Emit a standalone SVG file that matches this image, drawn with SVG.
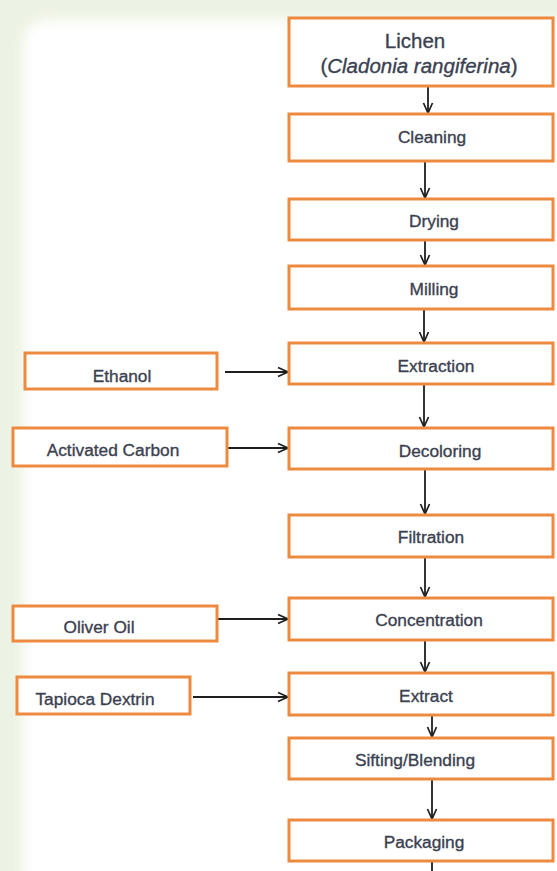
<svg xmlns="http://www.w3.org/2000/svg" width="557" height="871" viewBox="0 0 557 871">
<style>
.box{fill:#ffffff;stroke:#ee8a3e;stroke-width:3}
.t{font-family:"Liberation Sans",Arial,sans-serif;font-size:17.3px;fill:#3b4150;stroke:#3b4150;stroke-width:0.35;text-anchor:middle}
.big{font-size:20.5px}
.c{stroke:#1e1e1e;stroke-width:1.8;fill:none}
</style>
<defs>
<filter id="blur" x="-10%" y="-10%" width="120%" height="120%"><feGaussianBlur stdDeviation="6"/></filter>
<marker id="ah" viewBox="0 0 12 12" refX="11" refY="6" markerWidth="12" markerHeight="12" markerUnits="userSpaceOnUse" orient="auto">
<polyline points="1,1.5 11,6 1,10.5" fill="none" stroke="#1e1e1e" stroke-width="1.7"/>
</marker>
</defs>
<rect x="0" y="0" width="557" height="871" fill="#edf3e4"/>
<rect x="24" y="20" width="600" height="900" rx="22" fill="#ffffff" filter="url(#blur)"/>
<g id="connectors">
<line class="c" x1="428" y1="87" x2="428" y2="113" marker-end="url(#ah)"/>
<line class="c" x1="425" y1="162" x2="425" y2="198" marker-end="url(#ah)"/>
<line class="c" x1="425" y1="241" x2="425" y2="265" marker-end="url(#ah)"/>
<line class="c" x1="424" y1="310" x2="424" y2="342" marker-end="url(#ah)"/>
<line class="c" x1="424" y1="385" x2="424" y2="427" marker-end="url(#ah)"/>
<line class="c" x1="425" y1="470" x2="425" y2="514" marker-end="url(#ah)"/>
<line class="c" x1="425" y1="557" x2="425" y2="597" marker-end="url(#ah)"/>
<line class="c" x1="425" y1="640" x2="425" y2="672" marker-end="url(#ah)"/>
<line class="c" x1="432" y1="715" x2="432" y2="737" marker-end="url(#ah)"/>
<line class="c" x1="432" y1="780" x2="432" y2="819" marker-end="url(#ah)"/>
<line class="c" x1="432" y1="862" x2="432" y2="871"/>
<line class="c" x1="225" y1="372" x2="288" y2="372" marker-end="url(#ah)"/>
<line class="c" x1="228" y1="448" x2="288" y2="448" marker-end="url(#ah)"/>
<line class="c" x1="218" y1="619" x2="288" y2="619" marker-end="url(#ah)"/>
<line class="c" x1="193" y1="697" x2="288" y2="697" marker-end="url(#ah)"/>
</g>
<g id="lichen"><rect class="box" x="289" y="18" width="264" height="68"/>
<text class="t big" x="415" y="48">Lichen</text>
<text class="t big" x="419" y="73">(<tspan font-style="italic">Cladonia rangiferina</tspan>)</text></g>
<g id="cleaning"><rect class="box" x="289" y="114" width="264" height="47"/><text class="t" x="432" y="143">Cleaning</text></g>
<g id="drying"><rect class="box" x="289" y="199" width="264" height="41"/><text class="t" x="434" y="227">Drying</text></g>
<g id="milling"><rect class="box" x="289" y="266" width="264" height="43"/><text class="t" x="434" y="295">Milling</text></g>
<g id="extraction"><rect class="box" x="289" y="343" width="264" height="41"/><text class="t" x="436" y="372">Extraction</text></g>
<g id="decoloring"><rect class="box" x="289" y="428" width="264" height="41"/><text class="t" x="440" y="457">Decoloring</text></g>
<g id="filtration"><rect class="box" x="289" y="515" width="264" height="42"/><text class="t" x="431" y="543">Filtration</text></g>
<g id="concentration"><rect class="box" x="289" y="598" width="264" height="42"/><text class="t" x="429" y="626">Concentration</text></g>
<g id="extract"><rect class="box" x="289" y="673" width="264" height="42"/><text class="t" x="426" y="702">Extract</text></g>
<g id="sifting"><rect class="box" x="289" y="738" width="264" height="41"/><text class="t" x="415" y="766">Sifting/Blending</text></g>
<g id="packaging"><rect class="box" x="289" y="820" width="264" height="41"/><text class="t" x="424" y="848">Packaging</text></g>
<g id="ethanol"><rect class="box" x="25" y="353" width="192" height="36"/><text class="t" x="122" y="382">Ethanol</text></g>
<g id="carbon"><rect class="box" x="13" y="428" width="214" height="38"/><text class="t" x="113" y="456">Activated Carbon</text></g>
<g id="oil"><rect class="box" x="13" y="606" width="204" height="35"/><text class="t" x="99" y="633">Oliver Oil</text></g>
<g id="dextrin"><rect class="box" x="17" y="677" width="173" height="37"/><text class="t" x="95" y="705">Tapioca Dextrin</text></g>
</svg>
